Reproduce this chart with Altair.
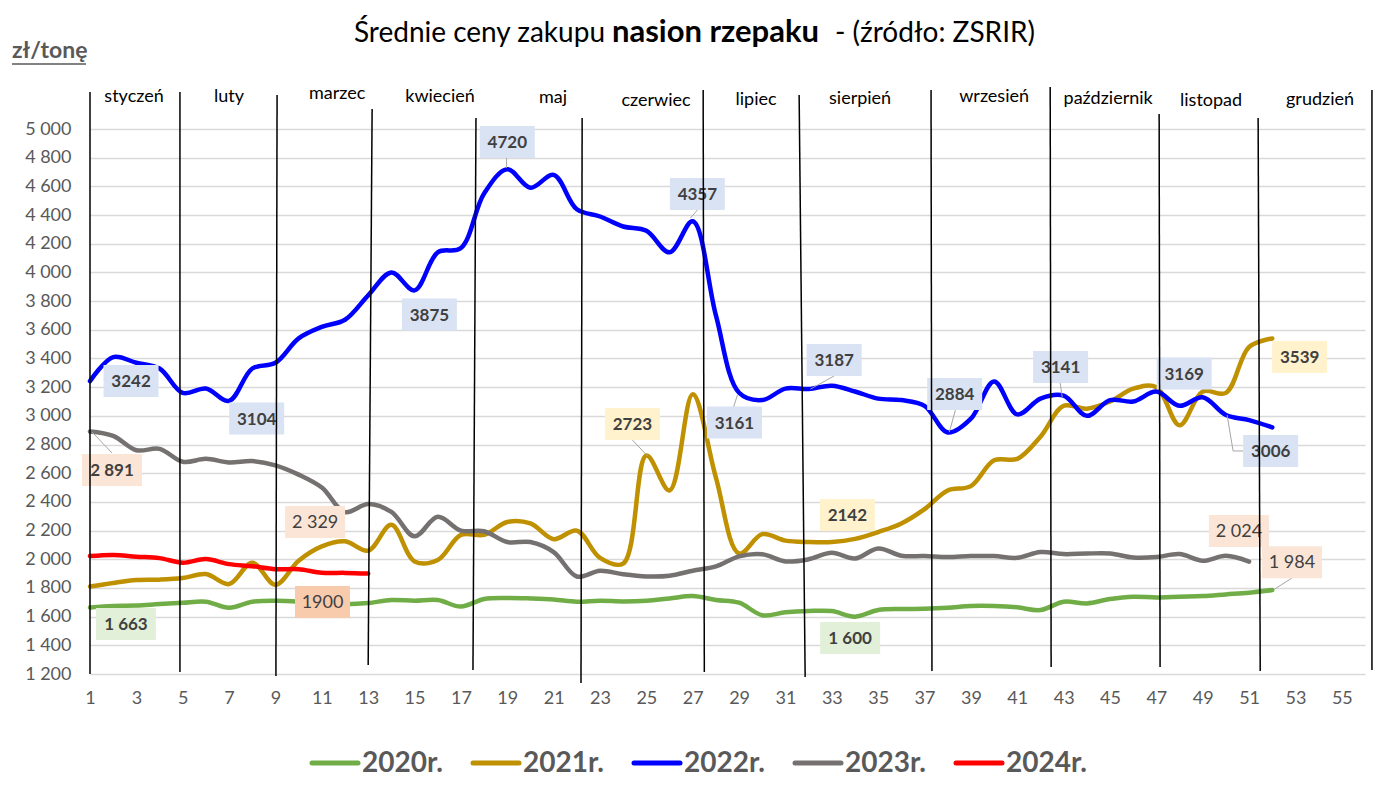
import altair as alt
import pandas as pd

# ---------------- data ----------------
series_names = ["2020r.", "2021r.", "2022r.", "2023r.", "2024r."]
series_colors = ["#70ad47", "#bf9000", "#0000ff", "#767171", "#ff0000"]

y2020 = [1663, 1675, 1677, 1688, 1697, 1704, 1662, 1704, 1711, 1704,
         1688, 1686, 1695, 1716, 1711, 1716, 1670, 1723, 1730, 1727,
         1720, 1704, 1711, 1706, 1711, 1727, 1743, 1716, 1697, 1610,
         1630, 1639, 1639, 1600, 1646, 1653, 1655, 1662, 1674, 1674,
         1665, 1646, 1704, 1692, 1723, 1739, 1734, 1739, 1743, 1755,
         1767, 1785]
y2021 = [1810, 1835, 1855, 1858, 1869, 1897, 1827, 1976, 1822, 1990,
         2090, 2125, 2060, 2240, 1985, 1995, 2170, 2170, 2260, 2250,
         2140, 2200, 2010, 1970, 2723, 2480, 3150, 2570, 2040, 2175,
         2130, 2120, 2120, 2142, 2190, 2250, 2350, 2480, 2510, 2690,
         2700, 2855, 3070, 3050, 3100, 3190, 3200, 2935, 3170, 3160,
         3480, 3539]
y2022 = [3242, 3410, 3370, 3330, 3160, 3190, 3104, 3330, 3370, 3540,
         3620, 3670, 3840, 4000, 3875, 4140, 4170, 4550, 4720, 4590,
         4680, 4440, 4390, 4320, 4290, 4140, 4357, 3700, 3161, 3110,
         3190, 3187, 3210, 3170, 3120, 3110, 3070, 2884, 2980, 3240,
         3010, 3120, 3141, 3000, 3110, 3100, 3169, 3070, 3130, 3006,
         2970, 2920]
y2023 = [2891, 2860, 2760, 2770, 2680, 2700, 2675, 2685, 2655, 2590,
         2500, 2329, 2385, 2330, 2160, 2296, 2200, 2195, 2120, 2120,
         2050, 1880, 1920, 1895, 1880, 1885, 1920, 1950, 2020, 2035,
         1985, 2000, 2045, 2005, 2075, 2025, 2022, 2015, 2022, 2022,
         2010, 2050, 2036, 2040, 2040, 2012, 2015, 2036, 1990, 2024,
         1984]
y2024 = [2022, 2030, 2018, 2008, 1976, 2001, 1966, 1952, 1931, 1931,
         1906, 1905, 1900]

months = ["styczeń", "luty", "marzec", "kwiecień", "maj", "czerwiec", "lipiec",
          "sierpień", "wrzesień", "październik", "listopad", "grudzień"]
month_label_week = [2.9, 7.0, 11.66, 16.1, 20.97, 25.42, 29.73, 34.22, 40.0, 44.92, 49.36, 54.06]
month_label_val = [5223, 5223, 5244, 5223, 5216, 5195, 5202, 5209, 5223, 5209, 5195, 5202]

sep_week_top = [1.0, 4.88, 9.07, 13.17, 17.65, 22.23, 27.45, 31.59, 37.28, 42.42, 47.12, 51.39, 56.3]
sep_week_bot = [1.0, 4.88, 9.02, 13.0, 17.52, 22.18, 27.5, 31.85, 37.32, 42.46, 47.16, 51.48, 56.3]
sep_val_top = [5258, 5258, 5237, 5139, 5077, 5077, 5272, 5237, 5272, 5293, 5105, 5077, 5272]
sep_val_bot = [1200, 1214, 1186, 1263, 1228, 1137, 1214, 1179, 1221, 1249, 1249, 1221, 1228]

label_text = ["3242", "3104", "3875", "4720", "4357", "3161", "3187", "2884", "3141", "3169", "3006",
              "2723", "2142", "3539",
              "2 891", "2 329", "2 024", "1 984",
              "1900",
              "1 663", "1 600"]
label_week = [2.77, 8.19, 15.64, 19.0, 27.2, 28.8, 33.1, 38.3, 42.87, 48.2, 51.93,
              24.4, 33.67, 53.18,
              1.95, 10.71, 50.56, 52.85,
              11.03,
              2.55, 33.79]
label_val = [3243, 2981, 3706, 4909, 4547, 2953, 3389, 3152, 3340, 3295, 2755,
             2943, 2308, 3410,
             2622, 2259, 2197, 1980,
             1702,
             1548, 1451]
label_bg = ["#dae3f3"] * 11 + ["#fff2cc"] * 3 + ["#fbe5d6"] * 4 + ["#f8cbad"] + ["#e2f0d9"] * 2
label_bold = [True] * 11 + [True] * 3 + [True, False, False, False] + [False] + [True, True]

leader_w1 = [1.09, 18.97, 26.9, 28.93, 32.08, 38.07, 42.94, 25.05, 52.1, 50.05, 50.31]
leader_v1 = [2887, 4728, 4379, 3145, 3187, 2887, 3131, 2720, 1792, 3006, 2755]
leader_w2 = [1.95, 18.97, 27.2, 28.76, 33.1, 38.33, 42.85, 24.4, 52.85, 50.31, 50.74]
leader_v2 = [2741, 4798, 4435, 3061, 3278, 3040, 3229, 2831, 1869, 2755, 2755]

# ---------------- tables ----------------
rows = []
for name, vals in zip(series_names, [y2020, y2021, y2022, y2023, y2024]):
    for i, v in enumerate(vals):
        rows.append({"week": i + 1, "price": v, "series": name})
df_lines = pd.DataFrame(rows)

df_months = pd.DataFrame({"m": months, "w": month_label_week, "v": month_label_val})
df_sep = pd.DataFrame({"wt": sep_week_top, "wb": sep_week_bot, "vt": sep_val_top, "vb": sep_val_bot})
df_lab = pd.DataFrame({"t": label_text, "w": label_week, "v": label_val, "bg": label_bg, "bold": label_bold})
df_lead = pd.DataFrame({"w1": leader_w1, "v1": leader_v1, "w2": leader_w2, "v2": leader_v2})
df_leg = pd.DataFrame({"series": series_names, "col": series_colors, "idx": list(range(len(series_names)))})

PLOT_W, PLOT_H = 1275, 545
XMIN, XMAX, YMIN, YMAX = 1, 56, 1200, 5000
px_per_week = PLOT_W / (XMAX - XMIN)
px_per_val = PLOT_H / (YMAX - YMIN)

xs = alt.Scale(domain=[XMIN, XMAX], nice=False, zero=False)
ys = alt.Scale(domain=[YMIN, YMAX], nice=False, zero=False)
FONT = "Lato"
GRAY = "#595959"

lines = alt.Chart(df_lines).mark_line(
    strokeWidth=4.5, interpolate="catmull-rom", strokeCap="round", strokeJoin="round"
).encode(
    x=alt.X("week:Q", scale=xs, axis=alt.Axis(
        values=list(range(1, 56, 2)), grid=False, domain=False, ticks=False,
        labelFont=FONT, labelFontSize=18, labelColor=GRAY, labelPadding=15,
        labelFlush=False, labelOverlap=False, title=None)),
    y=alt.Y("price:Q", scale=ys, axis=alt.Axis(
        values=list(range(1200, 5001, 200)), grid=True, gridColor="#d9d9d9", gridWidth=1.5,
        domain=False, ticks=False, labelFont=FONT, labelFontSize=18, labelColor=GRAY,
        labelPadding=19, labelOverlap=False,
        labelExpr="replace(format(datum.value, ','), ',', ' ')", title=None)),
    color=alt.Color("series:N", scale=alt.Scale(domain=series_names, range=series_colors), legend=None),
)

seps = alt.Chart(df_sep).mark_rule(color="black", strokeWidth=1.5).encode(
    x=alt.X("wt:Q", scale=xs, axis=None), x2="wb:Q",
    y=alt.Y("vt:Q", scale=ys, axis=None), y2="vb:Q")

month_text = alt.Chart(df_months).mark_text(
    font=FONT, fontSize=18, color="black", baseline="middle", align="center"
).encode(x=alt.X("w:Q", scale=xs, axis=None), y=alt.Y("v:Q", scale=ys, axis=None), text="m:N")

leads = alt.Chart(df_lead).mark_rule(color="#a6a6a6", strokeWidth=1).encode(
    x=alt.X("w1:Q", scale=xs, axis=None), x2="w2:Q",
    y=alt.Y("v1:Q", scale=ys, axis=None), y2="v2:Q")

boxes = alt.Chart(df_lab).transform_calculate(
    hw=f"(length(datum.t) > 4 ? 30 : 27.5) / {px_per_week}",
    hh=f"16 / {px_per_val}",
).transform_calculate(
    x0="datum.w - datum.hw", x1="datum.w + datum.hw",
    y0="datum.v - datum.hh", y1="datum.v + datum.hh",
).mark_rect().encode(
    x=alt.X("x0:Q", scale=xs, axis=None), x2="x1:Q",
    y=alt.Y("y0:Q", scale=ys, axis=None), y2="y1:Q",
    fill=alt.Fill("bg:N", scale=None))

lab_bold = alt.Chart(df_lab).transform_filter("datum.bold").mark_text(
    font=FONT, fontSize=17, fontWeight="bold", color="#404040", baseline="middle", align="center", dy=1
).encode(x=alt.X("w:Q", scale=xs, axis=None), y=alt.Y("v:Q", scale=ys, axis=None), text="t:N")

lab_reg = alt.Chart(df_lab).transform_filter("!datum.bold").mark_text(
    font=FONT, fontSize=18, color="#404040", baseline="middle", align="center", dy=1
).encode(x=alt.X("w:Q", scale=xs, axis=None), y=alt.Y("v:Q", scale=ys, axis=None), text="t:N")

# legend (manual, evenly spaced entries below the plot)
LEG_X0, LEG_STEP, LEG_SYM, LEG_Y = 222, 161, 46, 634
leg_base = alt.Chart(df_leg).transform_calculate(
    lx=f"{LEG_X0} + datum.idx * {LEG_STEP}",
    lx2=f"{LEG_X0} + datum.idx * {LEG_STEP} + {LEG_SYM}",
    tx=f"{LEG_X0} + datum.idx * {LEG_STEP} + {LEG_SYM} + 4",
)
leg_sym = leg_base.mark_rule(strokeWidth=5, strokeCap="round").encode(
    x=alt.X("lx:Q", scale=None, axis=None), x2="lx2:Q", y=alt.value(LEG_Y),
    color=alt.Color("col:N", scale=None, legend=None))
leg_txt = leg_base.mark_text(
    font=FONT, fontSize=28, fontWeight="bold", color=GRAY, align="left", baseline="middle", dy=1
).encode(x=alt.X("tx:Q", scale=None, axis=None), y=alt.value(LEG_Y), text="series:N")

one = pd.DataFrame({"a": [0]})
title_left = alt.Chart(one).mark_text(
    text="Średnie ceny zakupu", font=FONT, fontSize=28, color="black", align="right", baseline="alphabetic"
).encode(x=alt.value(515), y=alt.value(-87))
title_bold = alt.Chart(one).mark_text(
    text="nasion rzepaku", font=FONT, fontSize=31, fontWeight="bold", color="black",
    align="left", baseline="alphabetic"
).encode(x=alt.value(522), y=alt.value(-87))
title_right = alt.Chart(one).mark_text(
    text="- (źródło: ZSRIR)", font=FONT, fontSize=28, color="black", align="left", baseline="alphabetic"
).encode(x=alt.value(745), y=alt.value(-87))

unit = alt.Chart(one).mark_text(
    text="zł/tonę", font=FONT, fontSize=23, fontWeight="bold", color=GRAY, align="left", baseline="alphabetic"
).encode(x=alt.value(-78), y=alt.value(-71))
unit_line = alt.Chart(one).mark_rule(color=GRAY, strokeWidth=1.5).encode(
    x=alt.value(-78), x2=alt.value(-4), y=alt.value(-65))

chart = alt.layer(
    lines, leads, boxes, lab_bold, lab_reg, seps, month_text,
    title_left, title_bold, title_right, unit, unit_line, leg_sym, leg_txt
).resolve_axis(
    x="independent", y="independent"
).resolve_scale(
    color="independent"
).properties(
    width=PLOT_W, height=PLOT_H, autosize="none", background="white",
    padding={"left": 82, "top": 121, "right": 10, "bottom": 105},
).configure_view(stroke="transparent", strokeWidth=0)

chart.save("out.html", embed_options={"renderer": "svg", "actions": False})
